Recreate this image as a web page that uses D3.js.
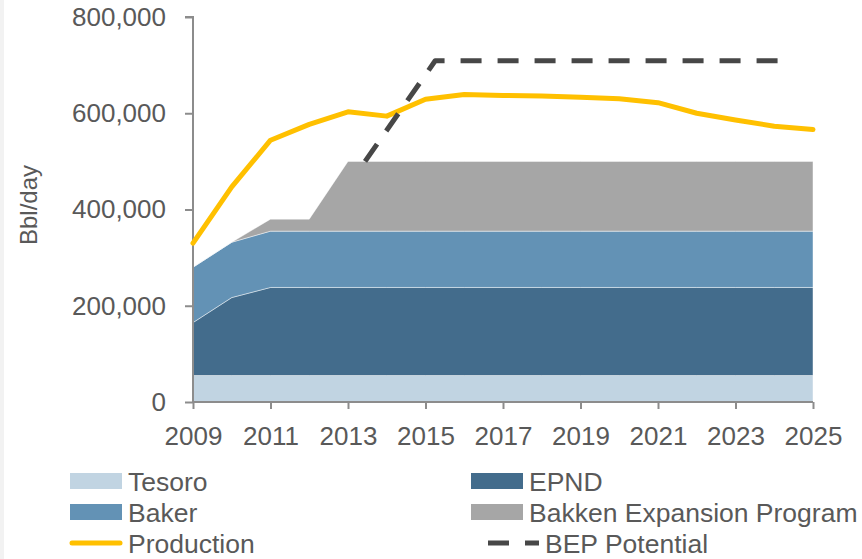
<!DOCTYPE html>
<html>
<head>
<meta charset="utf-8">
<script src="https://cdn.jsdelivr.net/npm/d3@7"></script>
<style>
  body { margin: 0; background: #ffffff; }
  svg { display: block; font-family: "Liberation Sans", Arial, sans-serif; }
</style>
</head>
<body>
<div id="chart"></div>
<script>
// chart data
var years = d3.range(2009, 2026);
var tesoro = [55000, 55000, 55000, 55000, 55000, 55000, 55000, 55000, 55000, 55000, 55000, 55000, 55000, 55000, 55000, 55000, 55000];
var epnd = [110000, 162000, 183000, 183000, 183000, 183000, 183000, 183000, 183000, 183000, 183000, 183000, 183000, 183000, 183000, 183000, 183000];
var baker = [115000, 115000, 117000, 117000, 117000, 117000, 117000, 117000, 117000, 117000, 117000, 117000, 117000, 117000, 117000, 117000, 117000];
var bakken = [0, 0, 25000, 25000, 145000, 145000, 145000, 145000, 145000, 145000, 145000, 145000, 145000, 145000, 145000, 145000, 145000];
var production = [330000, 447000, 544000, 577000, 603000, 594000, 629000, 639000, 637000, 636000, 633000, 630000, 622000, 600000, 586000, 573000, 566000];
var bepYears = [2013.44, 2015.25, 2024.44];
var bepPotential = [500000, 709000, 709000];
var yTicks = [0, 200000, 400000, 600000, 800000];
var xTicks = [2009, 2011, 2013, 2015, 2017, 2019, 2021, 2023, 2025];

var seriesKeys = ['Tesoro', 'EPND', 'Baker', 'Bakken Expansion Program'];
var seriesData = [tesoro, epnd, baker, bakken];
var colors = ['#c1d4e2', '#436c8c', '#6392b5', '#a6a6a6'];

var width = 862, height = 559;
var textColor = '#595959', axisColor = '#8c8c8c';

var rows = years.map(function(y, i) {
  var r = { year: y };
  seriesKeys.forEach(function(k, j) { r[k] = seriesData[j][i]; });
  return r;
});

var x = d3.scaleLinear().domain([2009, 2025]).range([193, 813]);
var y = d3.scaleLinear().domain([0, 800000]).range([402, 17]);

var svg = d3.select('#chart').append('svg')
  .attr('width', width)
  .attr('height', height);

svg.append('rect')
  .attr('x', 0).attr('y', 0)
  .attr('width', 4).attr('height', height)
  .style('fill', '#f2f2f2');

// stacked areas
var stack = d3.stack().keys(seriesKeys);
var layers = stack(rows);

var area = d3.area()
  .x(function(d) { return x(d.data.year); })
  .y0(function(d) { return y(d[0]); })
  .y1(function(d) { return y(d[1]); });

svg.append('g').selectAll('path')
  .data(layers)
  .enter().append('path')
  .attr('d', area)
  .style('fill', function(d, i) { return colors[i]; })
  .style('stroke', 'rgba(255,255,255,0.45)')
  .style('stroke-width', 1);

// axes
var yAxis = d3.axisLeft(y)
  .tickValues(yTicks)
  .tickSize(8)
  .tickPadding(19)
  .tickFormat(d3.format(','));

var yg = svg.append('g').attr('transform', 'translate(193,0)').call(yAxis);

var xAxis = d3.axisBottom(x)
  .tickValues(xTicks)
  .tickSize(7)
  .tickPadding(18)
  .tickFormat(d3.format('d'));

var xg = svg.append('g').attr('transform', 'translate(0,402)').call(xAxis);

[yg, xg].forEach(function(g) {
  g.select('.domain').style('stroke', axisColor).style('stroke-width', 2);
  g.selectAll('.tick line').style('stroke', axisColor).style('stroke-width', 2);
  g.selectAll('.tick text')
    .style('font-size', '26px')
    .style('fill', textColor)
    .style('font-family', '"Liberation Sans", Arial, sans-serif');
});
yg.select('.domain').attr('d', 'M-8,17H0V402');
xg.select('.domain').attr('d', 'M193,0H813');

// lines
var line = d3.line()
  .x(function(d) { return x(d[0]); })
  .y(function(d) { return y(d[1]); });

svg.append('path')
  .datum(years.map(function(yr, i) { return [yr, production[i]]; }))
  .attr('d', line)
  .style('fill', 'none')
  .style('stroke', '#ffc000')
  .style('stroke-width', 5)
  .style('stroke-linejoin', 'round')
  .style('stroke-linecap', 'round');

svg.append('path')
  .datum(bepYears.map(function(yr, i) { return [yr, bepPotential[i]]; }))
  .attr('d', line)
  .style('fill', 'none')
  .style('stroke', '#474747')
  .style('stroke-width', 5)
  .style('stroke-dasharray', '21,16')
  .style('stroke-linejoin', 'round');

// y label
svg.append('text')
  .attr('transform', 'translate(37,205) rotate(-90)')
  .attr('text-anchor', 'middle')
  .style('font-size', '24px')
  .style('fill', textColor)
  .text('Bbl/day');

// legend
var legendItems = [
  { name: 'Tesoro', type: 'box', color: colors[0], col: 0, row: 0 },
  { name: 'EPND', type: 'box', color: colors[1], col: 1, row: 0 },
  { name: 'Baker', type: 'box', color: colors[2], col: 0, row: 1 },
  { name: 'Bakken Expansion Program', type: 'box', color: colors[3], col: 1, row: 1 },
  { name: 'Production', type: 'line', color: '#ffc000', col: 0, row: 2 },
  { name: 'BEP Potential', type: 'dash', color: '#474747', col: 1, row: 2 }
];
var colX = [70, 471];
var rowY = [481, 512, 543];

var legend = svg.append('g');
legendItems.forEach(function(it) {
  var lx = colX[it.col], ly = rowY[it.row];
  var tx = lx + 58;
  if (it.type === 'box') {
    legend.append('rect')
      .attr('x', lx).attr('y', ly - 8)
      .attr('width', 52).attr('height', 16)
      .style('fill', it.color);
  } else if (it.type === 'line') {
    legend.append('line')
      .attr('x1', lx + 2).attr('x2', lx + 50)
      .attr('y1', ly).attr('y2', ly)
      .style('stroke', it.color)
      .style('stroke-width', 5)
      .style('stroke-linecap', 'round');
  } else {
    legend.append('line')
      .attr('x1', lx + 17).attr('x2', lx + 68)
      .attr('y1', ly).attr('y2', ly)
      .style('stroke', it.color)
      .style('stroke-width', 5)
      .style('stroke-dasharray', '21,16');
    tx = lx + 74;
  }
  legend.append('text')
    .attr('x', tx).attr('y', ly)
    .attr('dy', '0.36em')
    .style('font-size', '26.5px')
    .style('fill', textColor)
    .text(it.name);
});
</script>
</body>
</html>
